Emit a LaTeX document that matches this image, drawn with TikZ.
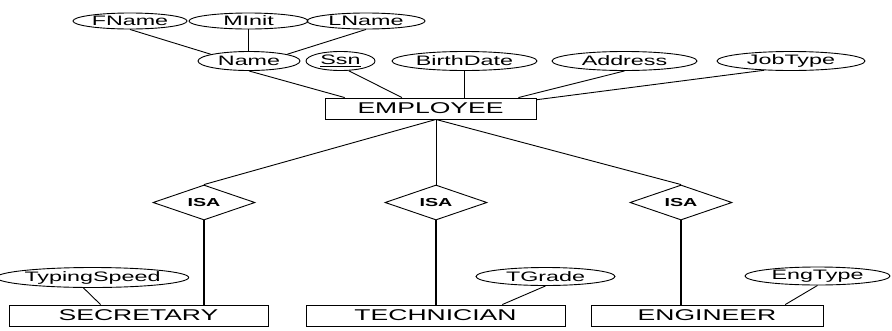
\documentclass[tikz,border=0pt]{standalone}
\usepackage{fontspec}
\setmainfont{Liberation Sans}[FakeStretch=1.7]
\usetikzlibrary{shapes.geometric,calc}
\begin{document}
\begin{tikzpicture}[x=1pt,y=-1pt,
  attr/.style={ellipse,draw,line width=0.9pt,inner sep=0pt,font=\fontsize{13.7}{14}\selectfont},
  ent/.style={rectangle,draw,line width=0.9pt,inner sep=0pt,minimum height=21pt,font=\fontsize{15.6}{16}\selectfont},
  isa/.style={diamond,draw,line width=0.9pt,inner sep=0pt,minimum width=102pt,minimum height=35pt,aspect=2.9,font=\bfseries\fontsize{11.6}{12}\selectfont},
  conn/.style={line width=0.9pt},
  heavy/.style={line width=2.4pt}]
\useasboundingbox (0,0) rectangle (892,330);
% top attributes
\node[attr,minimum width=114pt,minimum height=16pt] (fname) at (130,21) {FName};
\node[attr,minimum width=119pt,minimum height=16pt] (minit) at (248.5,21) {MInit};
\node[attr,minimum width=118pt,minimum height=16pt] (lname) at (366,21) {LName};
% employee attributes
\node[attr,minimum width=102pt,minimum height=19pt] (name) at (249,61) {Name};
\node[attr,minimum width=69pt,minimum height=19pt] (ssn) at (340.5,61) {\underline{Ssn}};
\node[attr,minimum width=145pt,minimum height=19pt] (birth) at (464.5,61) {BirthDate};
\node[attr,minimum width=145pt,minimum height=19pt] (addr) at (624.5,61) {Address};
\node[attr,minimum width=148pt,minimum height=19pt] (job) at (791,61) {JobType};
% employee
\node[ent,minimum width=211pt] (emp) at (430.5,108.5) {EMPLOYEE};
% ISA diamonds
\node[isa] (isa1) at (204,202.5) {ISA};
\node[isa] (isa2) at (436,202.5) {ISA};
\node[isa] (isa3) at (681,202.5) {ISA};
% subclasses
\node[ent,minimum width=259pt] (sec) at (138.5,315.5) {SECRETARY};
\node[ent,minimum width=259pt] (tech) at (435.5,315.5) {TECHNICIAN};
\node[ent,minimum width=232pt] (eng) at (707,315.5) {ENGINEER};
% subclass attributes
\node[attr,minimum width=155pt,minimum height=20pt] (typ) at (92.5,277.5) {TypingSpeed};
\node[attr,minimum width=139pt,minimum height=18pt] (tgrade) at (545.5,276.5) {TGrade};
\node[attr,minimum width=145pt,minimum height=18pt] (engt) at (817.5,276) {EngType};
% connectors: composite attribute
\draw[conn] (fname.south) -- (name.170);
\draw[conn] (minit.south) -- (minit.south |- name.north);
\draw[conn] (lname.south) -- (name.10);
% connectors: employee attributes
\draw[conn] (name.south) -- ($(emp.north west)!0.095!(emp.north east)$);
\draw[conn] (ssn.-50) -- ($(emp.north west)!0.365!(emp.north east)$);
\draw[conn] (birth.south) -- (birth.south |- emp.north);
\draw[conn] (addr.south) -- ($(emp.north west)!0.915!(emp.north east)$);
\draw[conn] (job.199) -- ($(emp.north east)!0.1!(emp.south east)$);
% connectors: specialisation
\coordinate (hub) at (emp.south -| isa2.north);
\draw[conn] (hub) -- (isa1.north);
\draw[conn] (hub) -- (isa2.north);
\draw[conn] (hub) -- (isa3.north);
\draw[heavy] (isa1.south) -- (isa1.south |- sec.north);
\draw[heavy] (isa2.south) -- (isa2.south |- tech.north);
\draw[heavy] (isa3.south) -- (isa3.south |- eng.north);
% connectors: subclass attributes
\draw[conn] (typ.-131) -- ($(sec.north west)!0.354!(sec.north east)$);
\draw[conn] (tgrade.south) -- ($(tech.north west)!0.757!(tech.north east)$);
\draw[conn] (engt.south) -- ($(eng.north west)!0.836!(eng.north east)$);
\end{tikzpicture}
\end{document}
